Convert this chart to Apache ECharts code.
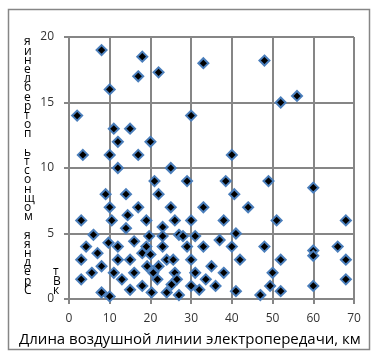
<!DOCTYPE html>
<html><head><meta charset="utf-8">
<script src="https://cdn.jsdelivr.net/npm/echarts@6/dist/echarts.min.js"></script>
<style>html,body{margin:0;padding:0;background:#fff}#c{width:378px;height:359px}#dbg{position:absolute;left:0;top:0;width:378px;font:9px monospace;color:transparent;background:transparent;white-space:pre-wrap;word-break:break-all;pointer-events:none}</style>
</head><body><div id="c"></div><div id="dbg"></div>
<script>
var errs=[];window.onerror=function(m){errs.push(String(m));};
var lengthKm = [8,18,22,33,17,10,2,30,11,15,12,20,3.4,10,17,12,25,48,52,56,40,
  21,29,9,14,22,10,17,25,33,14.4,3,10.5,19,26,30,14,23,6,19.7,23,27,28,31,9.7,16,4.2,12,19,23,29,33,
  7,18,20,3,12,15,24,25.6,30,35,8,19.2,22,5.6,11,16,20.7,26,31,3,13,21.7,26.5,33.6,18,30,25.2,
  8,15,20.3,24,32,10,27,
  38.5,49,60,40.6,44,38,51,68,41,37,40,48,60,60,66,42,52,68,38,50,36,49.4,60,68,41,47,52];
var powerKw = [19,18.5,17.3,18,17,16,14,14,13,13,12,12,11,11,11,10,10,18.2,15,15.5,11,
  9,9,8,8,8,7,7,7,7,6.4,6,6,6,6,6,5.4,5.5,4.9,4.8,4.8,4.9,4.8,4.8,4.3,4.4,4,4,4,4,4,4,
  3.5,3.5,3.4,3,3,3,3,3,3,2.5,2.5,2.5,2.5,2,2,2,2,2,2,1.5,1.5,1.5,1.5,1.5,1,1,1.1,
  0.5,0.7,0.5,0.5,0.7,0.2,0.3,
  9,9,8.5,8,7,6,6,6,5,4.5,4,4,3.7,3.3,4,3,3,3,2,2,1,1,1,1.5,0.6,0.3,0.6];
var xTicks = [0,10,20,30,40,50,60,70];
var yTicks = [0,5,10,15,20];
var yTitle = 'Средняя мощность потребления';
var yUnit = 'кВт';
var xTitle = 'Длина воздушной линии электропередачи, км';
var pts = lengthKm.map(function(x,i){return [x, powerKw[i]];});
var font = '"Open Sans","Noto Sans",sans-serif';
function vert(s){return s.split('').reverse().join('\n');}
var out=[];
var chart, opt;
try{
chart = echarts.init(document.getElementById('c'), null, {renderer:'canvas'});
opt = {
  animation:false,
  backgroundColor:'#fff',
  grid:{left:69,right:24,top:37,bottom:60},
  xAxis:{type:'value',min:0,max:70,interval:10,
    axisLine:{show:true,lineStyle:{color:'#868686',width:2}},
    axisTick:{show:true,length:5,lineStyle:{color:'#868686',width:2}},
    axisLabel:{margin:14,color:'#333',fontSize:12,fontFamily:font},
    splitLine:{show:true,lineStyle:{color:'#868686',width:2}}},
  yAxis:{type:'value',min:0,max:20,interval:5,
    axisLine:{show:true,lineStyle:{color:'#868686',width:2}},
    axisTick:{show:true,length:5,lineStyle:{color:'#868686',width:2}},
    axisLabel:{margin:15,color:'#333',fontSize:12,fontFamily:font},
    splitLine:{show:true,lineStyle:{color:'#868686',width:2}}},
  series:[{type:'scatter',data:pts,symbol:'diamond',symbolSize:10,
    itemStyle:{color:'#000',borderColor:'#4A7EBB',borderWidth:2,opacity:1}}],
  graphic:[
    {type:'rect',shape:{x:8.5,y:9.5,width:361,height:340},style:{fill:'none',stroke:'#868686',lineWidth:1.5},silent:true},
    {type:'text',left:24,top:36,style:{text:vert(yTitle),fontSize:12,lineHeight:9.2,fill:'#000',fontFamily:font,align:'left'}},
    {type:'text',left:53,top:266,style:{text:vert(yUnit),fontSize:12,lineHeight:9.2,fill:'#000',fontFamily:font,align:'left'}},
    {type:'text',left:19,top:332,style:{text:xTitle,fontSize:15,fill:'#000',fontFamily:font}}
  ]
};
chart.setOption(opt);
out.push('ver '+echarts.version);
var list=chart.getZr().storage.getDisplayList(true);
out.push('n='+list.length);
list.forEach(function(el){
  if(el.type==='text'||(el.style&&el.style.text!=null)){
    var t=String(el.style.text).slice(0,6).replace(/\n/g,'|');
    var tx=el.transform?[Math.round(el.transform[4]),Math.round(el.transform[5])]:[el.x,el.y];
    out.push(t+'@'+tx.join(','));
  }
});
}catch(e){out.push('EXC '+e.message);}
document.getElementById('dbg').textContent=errs.join(';')+'\n'+out.join('; ');
</script></body></html>
